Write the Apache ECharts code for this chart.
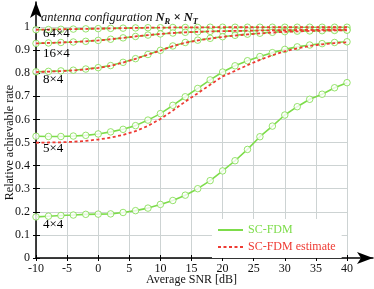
<!DOCTYPE html>
<html>
<head>
<meta charset="utf-8">
<script src="https://cdn.jsdelivr.net/npm/echarts@6/dist/echarts.min.js"></script>
<style>html,body{margin:0;padding:0;background:#fff;}#c{width:374px;height:289px;}</style>
</head>
<body>
<div id="c"></div>
<script>
// SNR values (dB)
const snr = [-10,-8,-6,-4,-2,0,2,4,6,8,10,12,14,16,18,20,22,24,26,28,30,32,34,36,38,40];
const xTicks = [-10,-5,0,5,10,15,20,25,30,35,40];
const yTicks = [0,0.1,0.2,0.3,0.4,0.5,0.6,0.7,0.8,0.9,1];

// SC-FDM (simulated)
const g64 = [0.988,0.989,0.990,0.991,0.992,0.993,0.994,0.995,0.996,0.997,0.997,0.998,0.998,0.998,0.999,0.999,0.999,0.999,0.999,0.999,0.999,0.999,0.999,0.999,0.999,0.999];
const g16 = [0.929,0.931,0.933,0.935,0.938,0.942,0.947,0.953,0.959,0.965,0.970,0.974,0.977,0.979,0.981,0.982,0.983,0.984,0.985,0.986,0.986,0.987,0.987,0.988,0.988,0.988];
const g8  = [0.806,0.808,0.810,0.813,0.818,0.824,0.833,0.847,0.863,0.881,0.899,0.918,0.933,0.943,0.951,0.958,0.964,0.969,0.973,0.977,0.980,0.982,0.983,0.984,0.985,0.986];
const g5  = [0.527,0.526,0.526,0.528,0.531,0.537,0.546,0.557,0.573,0.597,0.625,0.661,0.698,0.734,0.771,0.805,0.832,0.854,0.872,0.889,0.903,0.914,0.922,0.928,0.933,0.936];
const g4  = [0.178,0.181,0.184,0.186,0.189,0.190,0.191,0.197,0.205,0.216,0.232,0.249,0.272,0.300,0.335,0.377,0.421,0.470,0.525,0.571,0.619,0.655,0.687,0.709,0.737,0.759];

// SC-FDM estimate (analytical)
const r64 = [0.988,0.989,0.990,0.991,0.992,0.993,0.994,0.995,0.996,0.997,0.997,0.998,0.998,0.998,0.999,0.999,0.999,0.999,0.999,0.999,0.999,0.999,0.999,0.999,0.999,0.999];
const r16 = [0.929,0.931,0.933,0.935,0.938,0.942,0.947,0.953,0.959,0.965,0.970,0.974,0.977,0.979,0.981,0.982,0.983,0.984,0.985,0.986,0.986,0.987,0.987,0.988,0.988,0.988];
const r8  = [0.805,0.807,0.809,0.812,0.817,0.823,0.832,0.846,0.862,0.880,0.898,0.917,0.932,0.942,0.950,0.957,0.963,0.968,0.972,0.976,0.979,0.981,0.983,0.984,0.985,0.986];
const r5  = [0.499,0.500,0.501,0.503,0.507,0.513,0.521,0.533,0.549,0.572,0.602,0.638,0.677,0.713,0.750,0.786,0.810,0.835,0.858,0.878,0.895,0.908,0.918,0.925,0.930,0.934];

const configNames = ['64×4','16×4','8×4','5×4','4×4'];
const greenSets = [g64,g16,g8,g5,g4];
const redSets = [r64,r16,r8,r5];

const GREEN = '#7ddc4a';
const RED = '#ee3a33';
const FONT = '"Liberation Serif","Times New Roman",serif';

const chart = echarts.init(document.getElementById('c'), null, {renderer:'canvas'});
const pairs = arr => snr.map((x,i)=>[x,arr[i]]);

const series = [];
greenSets.forEach((arr,k)=>{
  series.push({type:'line', name:'SC-FDM', xAxisIndex:0, yAxisIndex:0, data:pairs(arr), symbol:'none', showSymbol:false,
    lineStyle:{color:GREEN,width:1.6}, itemStyle:{color:GREEN}, z:2, silent:true, animation:false});
  series.push({type:'scatter', name:'pts'+k, xAxisIndex:0, yAxisIndex:0, data:pairs(arr), symbol:'circle', symbolSize:6.5,
    itemStyle:{color:'#fff', borderColor:GREEN, borderWidth:1}, z:3, silent:true, animation:false});
});
redSets.forEach(arr=>{
  series.push({type:'line', name:'SC-FDM estimate', xAxisIndex:0, yAxisIndex:0, data:pairs(arr), symbol:'none', showSymbol:false,
    lineStyle:{color:RED,width:1.8,type:[3,2.5]}, itemStyle:{color:RED}, z:4, silent:true, animation:false});
});

const dashPath = 'path://M0,0h3v2h-3z M5.5,0h3v2h-3z M11,0h3v2h-3z M16.5,0h3v2h-3z M22,0h3v2h-3z';
const solidPath = 'path://M0,0h25v2h-25z';

chart.setOption({
  animation:false,
  backgroundColor:'#fff',
  title:{left:41, top:10, padding:0, text:'{a|antenna configuration }{b|N}{s|R}{b| × N}{s|T}',
    textStyle:{fontWeight:'normal', rich:{
      a:{fontFamily:FONT, fontStyle:'italic', fontWeight:'normal', fontSize:12.5, color:'#111'},
      b:{fontFamily:FONT, fontStyle:'italic', fontWeight:'bold', fontSize:12.5, color:'#111'},
      s:{fontFamily:FONT, fontStyle:'italic', fontWeight:'bold', fontSize:8.5, color:'#111', verticalAlign:'bottom', padding:[7,0,0,0]}
    }}},
  legend:{show:true, left:212, top:219, orient:'vertical', itemWidth:25, itemHeight:2, itemGap:3,
    backgroundColor:'#fff', padding:[4,6,4,6],
    textStyle:{fontFamily:FONT, fontSize:12, lineHeight:14},
    data:[{name:'SC-FDM', icon:solidPath, itemStyle:{color:GREEN}, textStyle:{color:GREEN}},
          {name:'SC-FDM estimate', icon:dashPath, itemStyle:{color:RED}, textStyle:{color:RED}}]},
  grid:[
    {left:36, right:27, top:27, bottom:31, containLabel:false, outerBoundsMode:'none'},
    {left:36, right:1, top:2, bottom:31, containLabel:false, outerBoundsMode:'none'}
  ],
  xAxis:[
    {gridIndex:0, type:'value', min:xTicks[0], max:xTicks[xTicks.length-1], interval:5,
      axisLine:{show:false, onZero:false}, axisTick:{show:true, inside:true, length:3, lineStyle:{color:'#000', width:1}},
      axisLabel:{fontFamily:FONT, fontSize:12, color:'#111', margin:5},
      splitLine:{show:true, lineStyle:{color:'#cdd3d3', width:1}},
      name:'Average SNR [dB]', nameLocation:'middle', nameGap:16, nameMoveOverlap:false, nameTextStyle:{fontFamily:FONT, fontSize:12, color:'#111'}},
    {gridIndex:0, type:'value', min:xTicks[0], max:xTicks[xTicks.length-1], interval:5, position:'bottom',
      axisLine:{show:false, onZero:false}, axisTick:{show:true, inside:false, length:3, lineStyle:{color:'#000', width:1}},
      axisLabel:{show:false}, splitLine:{show:false}},
    {gridIndex:1, type:'value', min:0, max:1, axisLabel:{show:false}, axisTick:{show:false}, splitLine:{show:false},
      axisLine:{show:true, onZero:false, symbol:['none','arrow'], symbolSize:[9,16], lineStyle:{color:'#000', width:1.5}}}
  ],
  yAxis:[
    {gridIndex:0, type:'value', min:yTicks[0], max:yTicks[yTicks.length-1], interval:0.1,
      axisLine:{show:false, onZero:false}, axisTick:{show:true, inside:true, length:4, lineStyle:{color:'#000', width:1}},
      axisLabel:{fontFamily:FONT, fontSize:12, color:'#111', margin:6, formatter:v=>String(+v.toFixed(1))},
      splitLine:{show:true, lineStyle:{color:'#cdd3d3', width:1}},
      name:'Relative achievable rate', nameLocation:'middle', nameGap:20, nameMoveOverlap:false, nameTextStyle:{fontFamily:FONT, fontSize:12, color:'#111'}},
    {gridIndex:0, type:'value', min:yTicks[0], max:yTicks[yTicks.length-1], interval:0.1, position:'left',
      axisLine:{show:false, onZero:false}, axisTick:{show:true, inside:false, length:3, lineStyle:{color:'#000', width:1}},
      axisLabel:{show:false}, splitLine:{show:false}},
    {gridIndex:1, type:'value', min:0, max:1, axisLabel:{show:false}, axisTick:{show:false}, splitLine:{show:false},
      axisLine:{show:true, onZero:false, symbol:['none','arrow'], symbolSize:[9,16], lineStyle:{color:'#000', width:1.5}}}
  ],
  series: series
});

// configuration labels placed relative to each curve's first point via the chart's scales
const labelDy = [4, 10.5, 8, 13, 8];
const graphics = configNames.map((n,k)=>{
  const p = chart.convertToPixel({xAxisIndex:0, yAxisIndex:0}, [snr[0], greenSets[k][0]]);
  return {type:'text', x:Math.round(p[0]+7), y:Math.round(p[1]+labelDy[k]), z:10, silent:true,
    style:{text:n, fill:'#000', fontFamily:FONT, fontSize:13, verticalAlign:'middle', align:'left'}};
});
chart.setOption({graphic:graphics});
</script>
</body>
</html>
